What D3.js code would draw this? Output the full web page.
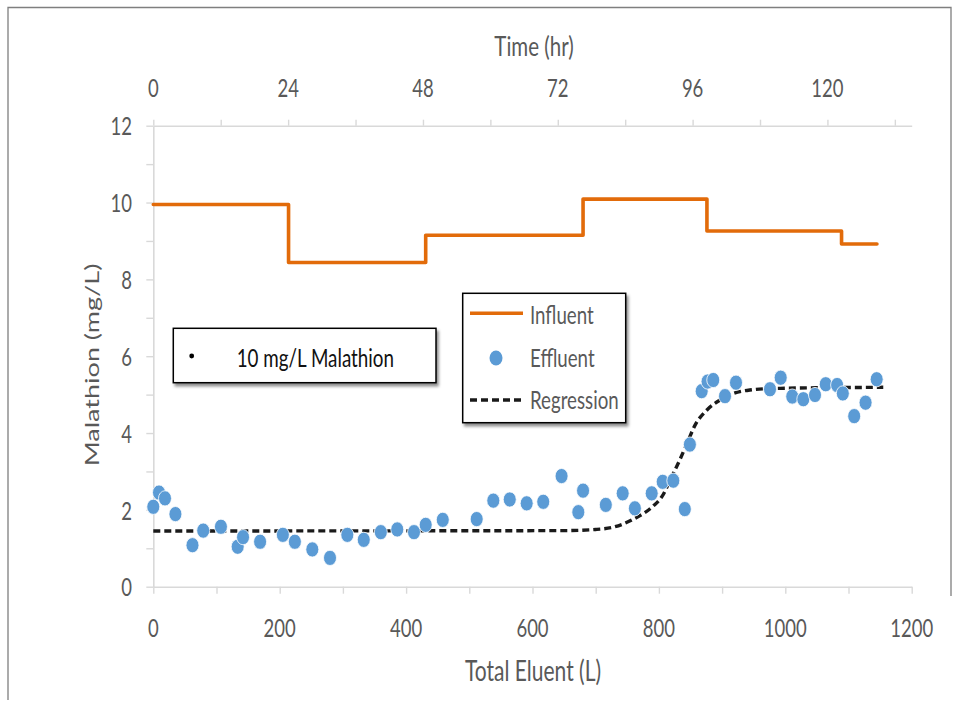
<!DOCTYPE html>
<html>
<head>
<meta charset="utf-8">
<script src="https://cdn.jsdelivr.net/npm/d3@7"></script>
<style>
  html, body { margin: 0; padding: 0; background: #fff; }
  svg { display: block; }
  text { font-family: Lato, "Open Sans", sans-serif; }
</style>
</head>
<body>
<svg id="chart" width="962" height="701"></svg>
<script>
// Malathion breakthrough run: influent feed level, effluent samples, fitted regression
const effluentX = [0, 9, 18.5, 35, 62, 79, 107, 133.5, 142, 169, 205, 224, 251.6, 279.6, 307, 333, 360, 386, 412.5, 431,
  458, 511.7, 538, 564, 590.8, 617, 646, 672.5, 680, 716, 742.7, 762, 788.6, 806, 822.8, 841, 849,
  867.7, 877, 886, 904.6, 922, 975.8, 992.7, 1011, 1028.5, 1047, 1064, 1082, 1091, 1109, 1127, 1144.6];
const effluentY = [2.08, 2.45, 2.30, 1.89, 1.08, 1.46, 1.56, 1.04, 1.29, 1.17, 1.35, 1.17, 0.97, 0.75, 1.35, 1.22, 1.42, 1.49, 1.42, 1.61,
  1.74, 1.76, 2.24, 2.27, 2.17, 2.21, 2.88, 1.94, 2.50, 2.13, 2.43, 2.04, 2.43, 2.73, 2.76, 2.02, 3.70,
  5.09, 5.34, 5.38, 4.96, 5.31, 5.14, 5.44, 4.95, 4.88, 4.99, 5.27, 5.25, 5.03, 4.44, 4.79, 5.40];

const influentX = [0, 214, 431, 680, 876, 1089, 1145];
const influentY = [9.95, 8.44, 9.15, 10.09, 9.26, 8.92, 8.92];

const regressionX = [0, 650, 700, 728, 760, 791, 805, 820, 833, 845, 857, 876, 897, 918, 944, 981, 1155];
const regressionY = [1.45, 1.46, 1.49, 1.55, 1.76, 2.1, 2.35, 2.85, 3.3, 3.75, 4.2, 4.6, 4.86, 5.03, 5.12, 5.16, 5.19];

const xTicks = [0, 100, 200, 300, 400, 500, 600, 700, 800, 900, 1000, 1100, 1200];
const yTicks = [0, 1, 2, 3, 4, 5, 6, 7, 8, 9, 10, 11, 12];
const timeTicks = [0, 12, 24, 36, 48, 60, 72, 84, 96, 108, 120, 132];

const SY = 1.35;              // vertical stretch of glyphs
const AXIS = "#d9d9d9";
const LABEL = "#595959";

const svg = d3.select("#chart");
svg.append("rect").attr("width", 962).attr("height", 701).attr("fill", "#fff");

const defs = svg.append("defs");
const sh = defs.append("filter").attr("id", "shadow").attr("x", "-10%").attr("y", "-10%").attr("width", "130%").attr("height", "140%");
sh.append("feDropShadow").attr("dx", 2).attr("dy", 3).attr("stdDeviation", 1.8)
  .attr("flood-color", "#000").attr("flood-opacity", 0.45);

// outer frame
svg.append("path").attr("d", "M8,700 V7.5 H951 V596").attr("fill", "none")
  .attr("stroke", "#7f7f7f").attr("stroke-width", 1.3);

const x = d3.scaleLinear().domain([0, 1200]).range([153.3, 911.7]);
const y = d3.scaleLinear().domain([0, 12]).range([586.7, 125.7]);
const t = d3.scaleLinear().domain([0, 135]).range([153.3, 911.7]);

function label(sel, str, px, py, opts = {}) {
  const rot = opts.rotate ? " rotate(-90)" : "";
  return sel.append("text")
    .attr("transform", `translate(${px},${py}) scale(1,${SY})${rot}`)
    .attr("text-anchor", opts.anchor || "middle")
    .attr("dominant-baseline", "central")
    .attr("font-size", opts.size || 18.5)
    .attr("fill", opts.color || LABEL)
    .text(str);
}

function styleAxis(g) {
  g.selectAll(".domain").attr("stroke", AXIS).attr("stroke-width", 1.6);
  g.selectAll(".tick line").attr("stroke", AXIS).attr("stroke-width", 1.4);
  g.selectAll(".tick text").remove();
}

// axes
svg.append("g").attr("transform", `translate(0,${y(0)})`)
  .call(d3.axisBottom(x).tickValues(xTicks).tickSize(7).tickSizeOuter(0).tickFormat(""))
  .call(styleAxis);
svg.append("g").attr("transform", `translate(${x(0)},0)`)
  .call(d3.axisLeft(y).tickValues(yTicks).tickSize(7).tickSizeOuter(0).tickFormat(""))
  .call(styleAxis);
svg.append("g").attr("transform", `translate(0,${y(12)})`)
  .call(d3.axisTop(t).tickValues(timeTicks).tickSize(6).tickSizeOuter(0).tickFormat(""))
  .call(styleAxis);

// tick labels
const labels = svg.append("g");
xTicks.filter(v => v % 200 === 0).forEach(v => label(labels, String(v), x(v), 627, { size: 18.5 }));
yTicks.filter(v => v % 2 === 0).forEach(v => label(labels, String(v), 132, y(v), { size: 18.5, anchor: "end" }));
timeTicks.filter(v => v % 24 === 0).forEach(v => label(labels, String(v), t(v), 87, { size: 18.5 }));

// axis titles
label(labels, "Time (hr)", 534, 45, { size: 20.5 });
label(labels, "Total Eluent (L)", 533, 670, { size: 21 });
label(labels, "Malathion (mg/L)", 91, 365, { size: 20, rotate: true });

// influent feed (step line)
const influent = influentX.map((v, i) => [v, influentY[i]]);
svg.append("path").datum(influent)
  .attr("d", d3.line().x(d => x(d[0])).y(d => y(d[1])).curve(d3.curveStepAfter))
  .attr("fill", "none").attr("stroke", "#E26B0A").attr("stroke-width", 3.6)
  .attr("stroke-linejoin", "round").attr("stroke-linecap", "round");

// regression curve
const regression = regressionX.map((v, i) => [v, regressionY[i]]);
svg.append("path").datum(regression)
  .attr("d", d3.line().x(d => x(d[0])).y(d => y(d[1])).curve(d3.curveMonotoneX))
  .attr("fill", "none").attr("stroke", "#1a1a1a").attr("stroke-width", 3.4)
  .attr("stroke-dasharray", "7,4");

// effluent samples
const effluent = effluentX.map((v, i) => [v, effluentY[i]]);
svg.append("g").selectAll("ellipse").data(effluent).join("ellipse")
  .attr("cx", d => x(d[0])).attr("cy", d => y(d[1]))
  .attr("rx", 6.5).attr("ry", 7.6)
  .attr("fill", "#5B9BD5").attr("stroke", "#fff").attr("stroke-width", 0.8);

// condition box
const cond = svg.append("g");
cond.append("rect").attr("x", 173.3).attr("y", 328.3).attr("width", 262.7).attr("height", 54.4)
  .attr("fill", "#fff").attr("stroke", "#000").attr("stroke-width", 1.5).attr("filter", "url(#shadow)");
cond.append("circle").attr("cx", 191.7).attr("cy", 356).attr("r", 2.4).attr("fill", "#000");
label(cond, "10 mg/L Malathion", 236.7, 357, { size: 18.8, anchor: "start", color: "#111" });

// series legend
const leg = svg.append("g");
leg.append("rect").attr("x", 462.7).attr("y", 293.3).attr("width", 163).attr("height", 129.4)
  .attr("fill", "#fff").attr("stroke", "#000").attr("stroke-width", 1.5).attr("filter", "url(#shadow)");
leg.append("line").attr("x1", 470).attr("x2", 523).attr("y1", 313.3).attr("y2", 313.3)
  .attr("stroke", "#E26B0A").attr("stroke-width", 3.6);
leg.append("ellipse").attr("cx", 496).attr("cy", 358).attr("rx", 6.5).attr("ry", 7.6).attr("fill", "#5B9BD5");
leg.append("line").attr("x1", 470).attr("x2", 524).attr("y1", 400).attr("y2", 400)
  .attr("stroke", "#1a1a1a").attr("stroke-width", 3.4).attr("stroke-dasharray", "7,4");
label(leg, "Influent", 530, 314, { size: 18.7, anchor: "start" });
label(leg, "Effluent", 530, 357, { size: 18.7, anchor: "start" });
label(leg, "Regression", 530, 399, { size: 18.7, anchor: "start" });
</script>
</body>
</html>
